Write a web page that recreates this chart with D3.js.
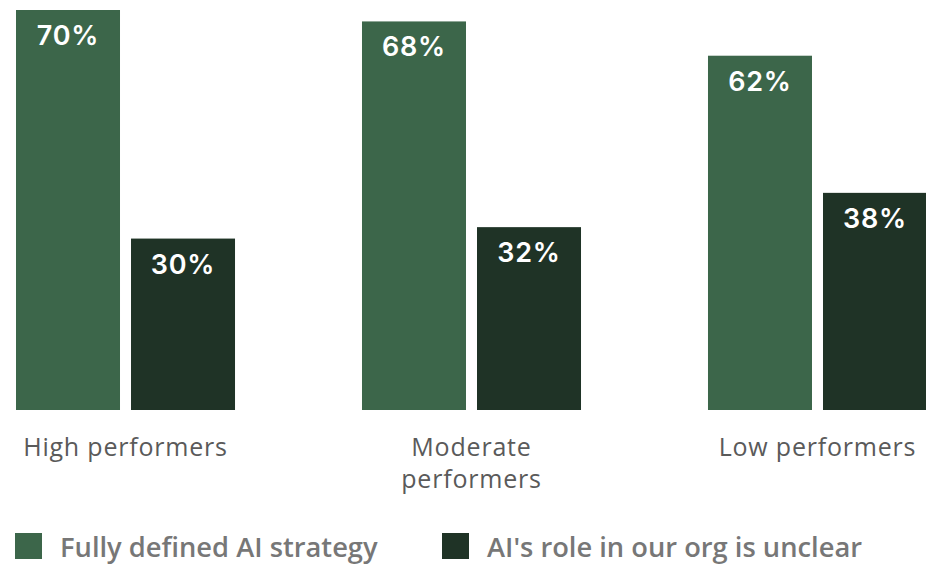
<!DOCTYPE html>
<html><head><meta charset="utf-8">
<script src="https://cdn.jsdelivr.net/npm/d3@7"></script>
<style>body{margin:0;background:#fff}svg{display:block}</style>
</head><body>
<svg id="c" width="926" height="568"></svg>
<script>
const categories = [["High performers"], ["Moderate", "performers"], ["Low performers"]];
const categoryKeys = ["High performers", "Moderate performers", "Low performers"];
const seriesNames = ["Fully defined AI strategy", "AI's role in our org is unclear"];
const fullyDefined = [70, 68, 62];
const roleUnclear = [30, 32, 38];
const colors = ["#3c664a", "#1f3326"];

const svg = d3.select("#c");
const x0 = d3.scaleBand().domain(categoryKeys).range([16, 927]).paddingInner(0.367).paddingOuter(0);
const x1 = d3.scaleBand().domain(seriesNames).range([0, x0.bandwidth()]).paddingInner(0.0957).paddingOuter(0);
const y = d3.scaleLinear().domain([0, 70]).range([410, 10]);

const data = categoryKeys.map((c, i) => ({cat: c, vals: [
  {s: seriesNames[0], v: fullyDefined[i], col: colors[0]},
  {s: seriesNames[1], v: roleUnclear[i], col: colors[1]}]}));

const g = svg.selectAll("g.grp").data(data).join("g").attr("class", "grp")
  .attr("transform", d => `translate(${x0(d.cat)},0)`);
g.selectAll("rect").data(d => d.vals).join("rect")
  .attr("x", d => x1(d.s)).attr("y", d => y(d.v))
  .attr("width", x1.bandwidth()).attr("height", d => y(0) - y(d.v))
  .attr("fill", d => d.col);
g.selectAll("text.val").data(d => d.vals).join("text").attr("class", "val")
  .attr("x", d => x1(d.s) + x1.bandwidth() / 2).attr("y", d => y(d.v) + 35)
  .attr("text-anchor", "middle").attr("fill", "#fff")
  .style("font-family", "Inter, sans-serif").style("font-weight", "600").style("font-size", "27px")
  .style("letter-spacing", "0.8px")
  .text(d => d.v + "%");

// category labels
svg.selectAll("text.cat").data(categories).join("text").attr("class", "cat")
  .attr("x", (d, i) => x0(categoryKeys[i]) + x0.bandwidth() / 2)
  .attr("y", 456).attr("text-anchor", "middle").attr("fill", "#5a5a5a")
  .style("font-family", "'Open Sans', sans-serif").style("font-size", "25px")
  .style("letter-spacing", "0.8px")
  .selectAll("tspan").data(d => d).join("tspan")
  .attr("x", function(){ return this.parentNode.getAttribute("x"); })
  .attr("dy", (d, i) => i === 0 ? 0 : 32).text(d => d);

// legend
const legX = [15, 442];
const lg = svg.selectAll("g.leg").data(seriesNames).join("g").attr("class", "leg")
  .attr("transform", (d, i) => `translate(${legX[i]},533)`);
lg.append("rect").attr("width", 27).attr("height", 26).attr("fill", (d, i) => colors[i]);
lg.append("text").attr("x", 45).attr("y", 24).attr("fill", "#777777")
  .style("font-family", "'Open Sans', sans-serif").style("font-weight", "600").style("font-size", "27.3px")
  .text(d => d);
</script>
</body></html>
